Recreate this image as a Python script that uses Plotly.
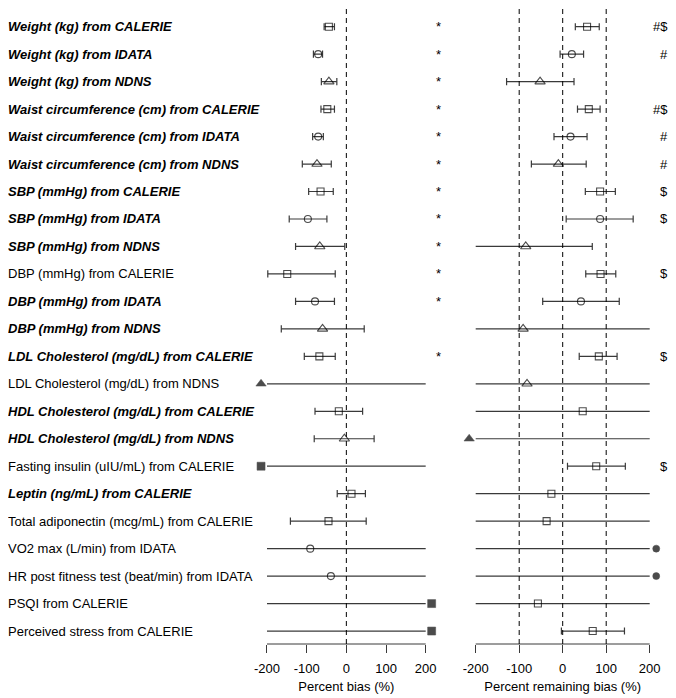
import plotly.graph_objects as go

# ---------------- data ----------------
labels = [
    "Weight (kg) from CALERIE", "Weight (kg) from IDATA", "Weight (kg) from NDNS",
    "Waist circumference (cm) from CALERIE", "Waist circumference (cm) from IDATA",
    "Waist circumference (cm) from NDNS",
    "SBP (mmHg) from CALERIE", "SBP (mmHg) from IDATA", "SBP (mmHg) from NDNS",
    "DBP (mmHg) from CALERIE", "DBP (mmHg) from IDATA", "DBP (mmHg) from NDNS",
    "LDL Cholesterol (mg/dL) from CALERIE", "LDL Cholesterol (mg/dL) from NDNS",
    "HDL Cholesterol (mg/dL) from CALERIE", "HDL Cholesterol (mg/dL) from NDNS",
    "Fasting insulin (uIU/mL) from CALERIE", "Leptin (ng/mL) from CALERIE",
    "Total adiponectin (mcg/mL) from CALERIE", "VO2 max (L/min) from IDATA",
    "HR post fitness test (beat/min) from IDATA", "PSQI from CALERIE",
    "Perceived stress from CALERIE",
]
studies = ["CALERIE", "IDATA", "NDNS", "CALERIE", "IDATA", "NDNS", "CALERIE", "IDATA", "NDNS",
           "CALERIE", "IDATA", "NDNS", "CALERIE", "NDNS", "CALERIE", "NDNS", "CALERIE", "CALERIE",
           "CALERIE", "IDATA", "IDATA", "CALERIE", "CALERIE"]
bold_rows = [1, 1, 1, 1, 1, 1, 1, 1, 1, 0, 1, 1, 1, 0, 1, 1, 0, 1, 0, 0, 0, 0, 0]

bias_est = [-44, -71, -44, -48, -71, -74, -65, -97, -67, -149, -79, -60, -68, -250,
            -19, -5, -250, 13, -45, -91, -39, 250, 250]
bias_lo = [-56, -83, -63, -64, -85, -111, -95, -144, -128, -198, -128, -164, -106, -400,
           -79, -81, -400, -23, -141, -300, -300, -300, -300]
bias_hi = [-30, -60, -24, -30, -58, -38, -33, -49, -4, -28, -30, 45, -28, 300,
           41, 70, 300, 48, 50, 300, 300, 400, 400]
bias_marks = ["*", "*", "*", "*", "*", "*", "*", "*", "*", "*", "*", "", "*", "",
              "", "", "", "", "", "", "", "", ""]

rem_est = [56, 21, -52, 60, 18, -10, 86, 86, -85, 87, 42, -91, 83, -82, 46, -250,
           77, -26, -37, 250, 250, -57, 69]
rem_lo = [29, -6, -129, 34, -20, -72, 52, 8, -230, 53, -46, -300, 38, -300, -300, -400,
          11, -300, -300, -300, -300, -300, -3]
rem_hi = [84, 48, 26, 86, 56, 54, 121, 162, 68, 122, 130, 300, 125, 300, 300, 300,
          144, 300, 300, 400, 400, 300, 142]
rem_marks = ["#$", "#", "", "#$", "#", "#", "$", "$", "", "$", "", "", "$", "",
             "", "", "$", "", "", "", "", "", ""]

tick_vals = [-200, -100, 0, 100, 200]
tick_text = ["-200", "-100", "0", "100", "200"]
left_refs = [0]
right_refs = [-100, 0, 100]

# ---------------- styling ----------------
LIM = 200
EDGE = 215
EXT = 230
CAP = 0.13
open_sym = {"CALERIE": "square-open", "IDATA": "circle-open", "NDNS": "triangle-up-open"}
fill_sym = {"CALERIE": "square", "IDATA": "circle", "NDNS": "triangle-up"}
open_size = {"CALERIE": 7, "IDATA": 7, "NDNS": 9}
fill_size = {"CALERIE": 8, "IDATA": 7, "NDNS": 9}
LINE_C = "#3a3a3a"
FONT = "Liberation Sans, Arial, sans-serif"
OFF = 8                      # page offset of the plot div
W, H = 676 - OFF, 698 - OFF

rows = list(range(1, len(labels) + 1))
fig = go.Figure()


def add_panel(est, lo, hi, xa):
    lx, ly, cx, cy = [], [], [], []
    for r, e, a, b in zip(rows, est, lo, hi):
        a2, b2 = max(a, -LIM), min(b, LIM)
        lx += [a2, b2, None]
        ly += [r, r, None]
        if a > -LIM:
            cx += [a, a, None]
            cy += [r - CAP, r + CAP, None]
        if b < LIM:
            cx += [b, b, None]
            cy += [r - CAP, r + CAP, None]
    fig.add_trace(go.Scatter(x=lx, y=ly, mode="lines", xaxis=xa, yaxis="y",
                             line=dict(color=LINE_C, width=1.2), hoverinfo="skip"))
    fig.add_trace(go.Scatter(x=cx, y=cy, mode="lines", xaxis=xa, yaxis="y",
                             line=dict(color=LINE_C, width=1.2), hoverinfo="skip"))
    ox, oy, osym, osz = [], [], [], []
    fx, fy, fsym, fsz = [], [], [], []
    for r, e, s in zip(rows, est, studies):
        if abs(e) <= LIM:
            ox.append(e); oy.append(r); osym.append(open_sym[s]); osz.append(open_size[s])
        else:
            fx.append(EDGE if e > 0 else -EDGE); fy.append(r)
            fsym.append(fill_sym[s]); fsz.append(fill_size[s])
    fig.add_trace(go.Scatter(x=ox, y=oy, mode="markers", xaxis=xa, yaxis="y",
                             marker=dict(symbol=osym, size=osz, color="black",
                                         line=dict(color="black", width=1.1))))
    fig.add_trace(go.Scatter(x=fx, y=fy, mode="markers", xaxis=xa, yaxis="y",
                             marker=dict(symbol=fsym, size=fsz, color="black",
                                         line=dict(color="black", width=0.5))))
    # axis baseline from -200 to 200
    fig.add_shape(type="line", xref=xa, yref="paper", x0=-LIM, x1=LIM, y0=0, y1=0,
                  line=dict(color=LINE_C, width=1))


add_panel(bias_est, bias_lo, bias_hi, "x")
add_panel(rem_est, rem_lo, rem_hi, "x2")

# reference dashed lines
for v in left_refs:
    fig.add_shape(type="line", xref="x", yref="paper", x0=v, x1=v, y0=0, y1=1,
                  line=dict(color="black", width=1, dash="5px,4px"))
for v in right_refs:
    fig.add_shape(type="line", xref="x2", yref="paper", x0=v, x1=v, y0=0, y1=1,
                  line=dict(color="black", width=1, dash="5px,4px"))

# row labels
for r, lab, b in zip(rows, labels, bold_rows):
    txt = f"<b><i>{lab}</i></b>" if b else lab
    fig.add_annotation(x=0, y=r, xref="paper", yref="y", text=txt, showarrow=False,
                       xanchor="left", yanchor="middle", xshift=-2,
                       font=dict(family=FONT, size=13, color="black"))

# significance marks
for r, m in zip(rows, bias_marks):
    if m:
        fig.add_annotation(x=(438.3 - OFF) / W, y=r, xref="paper", yref="y", text=m,
                           showarrow=False, xanchor="center", yanchor="middle",
                           font=dict(family=FONT, size=13, color="black"))
for r, m in zip(rows, rem_marks):
    if m:
        fig.add_annotation(x=(669.5 - OFF) / W, y=r, xref="paper", yref="y", text=m,
                           showarrow=False, xanchor="right", yanchor="middle",
                           font=dict(family=FONT, size=13, color="black"))

# pixel geometry of panels (-200..200 spans), page coordinates
L0, L1 = 267.0, 425.7
R0, R1 = 475.7, 649.7


def domain(p0, p1):
    c = (p0 + p1) / 2 - OFF
    half = (p1 - p0) / 2 * EXT / LIM
    return [(c - half) / W, (c + half) / W]


# y geometry: row 1 at page y 26.7, spacing 27.47, axis line at page y 644
TOP, SP, AXY = 26.7 - OFF, 27.47, 644 - OFF
y_top = 1 - TOP / SP
y_bot = y_top + AXY / SP

axis_common = dict(range=[-EXT, EXT], showgrid=False, zeroline=False, showline=False,
                   ticks="outside", ticklen=8, tickcolor=LINE_C, tickwidth=1,
                   tickvals=tick_vals, ticktext=tick_text, ticklabelstandoff=4,
                   automargin=False,
                   tickfont=dict(family=FONT, size=13, color="black"), fixedrange=True)
fig.update_layout(
    width=W, height=H,
    margin=dict(l=0, r=0, t=0, b=H - AXY, pad=0),
    paper_bgcolor="white", plot_bgcolor="white",
    showlegend=False,
    xaxis=dict(domain=domain(L0, L1), anchor="y",
               title=dict(text="Percent bias (%)", standoff=7,
                          font=dict(family=FONT, size=13, color="black")),
               **axis_common),
    xaxis2=dict(domain=domain(R0, R1), anchor="y",
                title=dict(text="Percent remaining bias (%)", standoff=7,
                           font=dict(family=FONT, size=13, color="black")),
                **axis_common),
    yaxis=dict(range=[y_bot, y_top], visible=False, fixedrange=True, automargin=False),
)

fig.write_html("out.html")
